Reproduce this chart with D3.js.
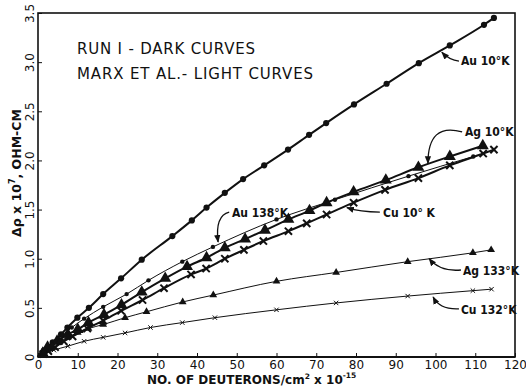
<!DOCTYPE html>
<html>
<head>
<meta charset="utf-8">
<script src="https://cdn.jsdelivr.net/npm/d3@7"></script>
<style>
  body { margin: 0; background: #fff; }
  svg { display: block; font-family: "DejaVu Sans", sans-serif; }
</style>
</head>
<body>
<svg id="chart" width="526" height="388"></svg>
<script>
// data: [deuterons x 1e-15 /cm2, delta rho x 1e7 ohm-cm]
var au10K = [[0,0],[1.5,0.065],[3.7,0.15],[5.8,0.23],[7.4,0.30],[9.9,0.40],[12.8,0.50],[16.4,0.64],[20.9,0.80],[26.1,0.99],[33.8,1.23],[38.7,1.39],[42.4,1.52],[47.0,1.67],[51.6,1.81],[56.9,1.95],[62.9,2.11],[68.2,2.26],[72.5,2.38],[79.5,2.57],[87.7,2.78],[95.8,2.99],[103.6,3.17],[112.2,3.38],[114.7,3.45]];
var ag10K = [[0,0],[1.2,0.04],[2.4,0.10],[4.8,0.16],[7.5,0.23],[10,0.28],[12.7,0.35],[16.6,0.43],[21,0.53],[26.1,0.66],[32,0.80],[37.5,0.92],[42.4,1.01],[47,1.11],[52.1,1.20],[57.1,1.29],[63,1.40],[68.3,1.49],[72.6,1.57],[79.4,1.68],[87.5,1.80],[95.7,1.93],[103.6,2.04],[111.9,2.15]];
var cu10K = [[0,0],[1.3,0.03],[2.6,0.06],[4.3,0.10],[6.5,0.16],[8.7,0.21],[12.4,0.29],[16.4,0.37],[20.9,0.47],[26.3,0.58],[31.7,0.70],[38.5,0.84],[42.3,0.90],[47,1.0],[51.8,1.09],[56.7,1.18],[63,1.28],[67.6,1.36],[72.6,1.45],[79.4,1.57],[87.3,1.70],[95.7,1.82],[103.6,1.95],[112,2.07],[114.7,2.11]];
var au138K = [[0,0],[1.5,0.05],[3.5,0.13],[6,0.22],[8.5,0.30],[11.6,0.39],[16.4,0.51],[22.3,0.64],[27.8,0.78],[36.3,0.97],[44,1.12],[60,1.40],[74.7,1.60],[93.2,1.84],[109.5,2.04]];
var ag133K = [[0,0],[1.5,0.05],[3.5,0.11],[5.5,0.16],[7.5,0.20],[10,0.25],[12.7,0.29],[16.4,0.33],[21.9,0.40],[27.3,0.46],[36.4,0.56],[44.1,0.63],[60,0.77],[75,0.86],[93,0.97],[109.4,1.06],[114,1.09]];
var cu132K = [[0,0],[1.5,0.03],[4,0.07],[7.5,0.11],[11.6,0.16],[16.4,0.20],[21.9,0.245],[28.3,0.30],[36.3,0.35],[44.5,0.40],[60,0.48],[75,0.55],[93,0.62],[109.4,0.675],[114.1,0.69]];

var xTicks = [0,10,20,30,40,50,60,70,80,90,100,110,120];
var yTicks = [0,0.5,1.0,1.5,2.0,2.5,3.0,3.5];

// curve labels: text anchor and leader end, in data units
var curveLabels = [
  { text: "Au 10°K",  tx: 106.4, ty: 2.97, sx: 105.9, sy: 3.01, cx: 103.5, cy: 3.02, ex: 101.6, ey: 3.10 },
  { text: "Ag 10°K",  tx: 107.4, ty: 2.25, sx: 106.7, sy: 2.29, cx: 98.1,  cy: 2.39, ex: 98.1,  ey: 1.97 },
  { text: "Cu 10° K", tx: 86.8,  ty: 1.42, sx: 86.0,  sy: 1.475, cx: 81,   cy: 1.475, ex: 77.7, ey: 1.52 },
  { text: "Au 138°K", tx: 48.8,  ty: 1.42, sx: 48.1,  sy: 1.475, cx: 44.5, cy: 1.44, ex: 45.3,  ey: 1.17 },
  { text: "Ag 133°K", tx: 106.9, ty: 0.83, sx: 106.4, sy: 0.885, cx: 101.1, cy: 0.865, ex: 98.4, ey: 1.0 },
  { text: "Cu 132°K", tx: 106.4, ty: 0.44, sx: 105.9, sy: 0.49, cx: 101.1, cy: 0.48, ex: 99.4, ey: 0.61 }
];

var svg = d3.select("#chart");
var x = d3.scaleLinear().domain([0, 120]).range([38, 515]);
var y = d3.scaleLinear().domain([0, 3.5]).range([357, 13]);

var line = d3.line()
  .x(function (d) { return x(d[0]); })
  .y(function (d) { return y(d[1]); })
  .curve(d3.curveMonotoneX);

var series = [
  { data: au10K,  w: 2,   mark: "dot",  size: 3.1 },
  { data: ag10K,  w: 2,   mark: "tri",  size: 62 },
  { data: cu10K,  w: 2,   mark: "x",    size: 3.6 },
  { data: au138K, w: 1,   mark: "dot",  size: 2.2 },
  { data: ag133K, w: 1,   mark: "tri",  size: 26 },
  { data: cu132K, w: 1,   mark: "x",    size: 2.2 }
];

series.forEach(function (s) {
  svg.append("path")
    .attr("d", line(s.data))
    .attr("fill", "none")
    .attr("stroke", "#111")
    .attr("stroke-width", s.w);

  var pts = svg.append("g").selectAll("g")
    .data(s.data.filter(function (d) { return d[0] > 0; }))
    .enter().append("g")
    .attr("transform", function (d) { return "translate(" + x(d[0]) + "," + y(d[1]) + ")"; });

  if (s.mark === "dot") {
    pts.append("circle").attr("r", s.size).attr("fill", "#111");
  } else if (s.mark === "tri") {
    pts.append("path").attr("d", d3.symbol().type(d3.symbolTriangle).size(s.size)).attr("fill", "#111");
  } else {
    var r = s.size;
    pts.append("path")
      .attr("d", "M" + (-r) + "," + (-r) + "L" + r + "," + r + "M" + (-r) + "," + r + "L" + r + "," + (-r))
      .attr("stroke", "#111")
      .attr("stroke-width", s.w === 2 ? 2 : 1);
  }
});

// axes
var gx = svg.append("g")
  .attr("transform", "translate(0," + y(0) + ")")
  .call(d3.axisBottom(x).tickValues(xTicks).tickSizeInner(-4).tickSizeOuter(0).tickPadding(3));
gx.select(".domain").remove();
gx.selectAll("text").attr("font-size", 12).attr("font-family", "DejaVu Sans").attr("fill", "#111");
gx.selectAll("line").attr("stroke", "#111");

var gy = svg.append("g")
  .attr("transform", "translate(" + x(0) + ",0)")
  .call(d3.axisLeft(y).tickValues(yTicks).tickSizeInner(-4).tickSizeOuter(0).tickFormat(function (d) { return d === 0 ? "0" : d3.format(".1f")(d); }));
gy.select(".domain").remove();
gy.selectAll("line").attr("stroke", "#111");
gy.selectAll("text")
  .attr("font-size", 12).attr("font-family", "DejaVu Sans").attr("fill", "#111")
  .attr("text-anchor", "middle").attr("x", null).attr("dy", null)
  .attr("transform", "translate(-4,0) rotate(-90)");

// frame
svg.append("rect")
  .attr("x", x(0)).attr("y", y(3.5))
  .attr("width", x(120) - x(0)).attr("height", y(0) - y(3.5))
  .attr("fill", "none").attr("stroke", "#111").attr("stroke-width", 1.6);
svg.append("line").attr("x1", x(0)).attr("x2", x(120)).attr("y1", y(0)).attr("y2", y(0))
  .attr("stroke", "#111").attr("stroke-width", 2.2);

// key text
svg.append("text").attr("x", 77).attr("y", 54).attr("font-size", 15).attr("fill", "#111")
  .attr("textLength", 178).attr("lengthAdjust", "spacing")
  .text("RUN I - DARK CURVES");
svg.append("text").attr("x", 77).attr("y", 79).attr("font-size", 15).attr("fill", "#111")
  .attr("textLength", 236).attr("lengthAdjust", "spacing")
  .text("MARX ET AL.- LIGHT CURVES");

// leaders and curve labels
svg.append("defs").append("marker")
  .attr("id", "arr").attr("viewBox", "0 0 10 10").attr("refX", 9).attr("refY", 5)
  .attr("markerWidth", 6).attr("markerHeight", 6).attr("orient", "auto")
  .append("path").attr("d", "M0,1L10,5L0,9Z").attr("fill", "#111");

curveLabels.forEach(function (l) {
  var p = d3.path();
  p.moveTo(x(l.sx), y(l.sy));
  p.quadraticCurveTo(x(l.cx), y(l.cy), x(l.ex), y(l.ey));
  svg.append("path").attr("d", p.toString()).attr("fill", "none")
    .attr("stroke", "#111").attr("stroke-width", 1.3).attr("marker-end", "url(#arr)");
  svg.append("text").attr("x", x(l.tx)).attr("y", y(l.ty))
    .attr("font-size", 12).attr("font-weight", "bold").attr("fill", "#111")
    .attr("font-family", "'DejaVu Sans Condensed', 'DejaVu Sans'")
    .text(l.text);
});

// axis titles
var xt = svg.append("text").attr("x", 147).attr("y", 384)
  .attr("font-size", 12).attr("font-weight", "bold").attr("fill", "#111");
xt.append("tspan").text("NO. OF DEUTERONS/cm");
xt.append("tspan").attr("font-size", 7.5).attr("dy", -5).text("2");
xt.append("tspan").attr("dy", 5).text(" x 10");
xt.append("tspan").attr("font-size", 7.5).attr("dy", -6).text("-15");

var yt = svg.append("text")
  .attr("transform", "translate(21,173) rotate(-90)")
  .attr("text-anchor", "middle")
  .attr("font-size", 12.5).attr("font-weight", "bold").attr("fill", "#111");
yt.append("tspan").text("Δρ x 10");
yt.append("tspan").attr("font-size", 8).attr("dy", -6).text("7");
yt.append("tspan").attr("dy", 6).text(", OHM-CM");
</script>
</body>
</html>
